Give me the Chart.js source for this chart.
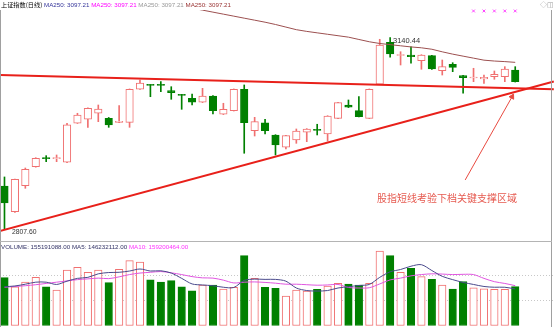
<!DOCTYPE html>
<html>
<head>
<meta charset="utf-8">
<script src="https://cdn.jsdelivr.net/npm/chart.js@4.4.0/dist/chart.umd.min.js"></script>
<style>
  body { margin: 0; width: 554px; height: 327px; background: #fff; overflow: hidden; position: relative;
         font-family: "Liberation Sans", Arial, "Noto Sans CJK SC", sans-serif; }
  canvas { position: absolute; left: 0; }
  #kline { top: 0; }
  #vol { top: 242px; }
  .txt { position: absolute; white-space: nowrap; line-height: 1; }
  #frame { position: absolute; left: 0; top: 10px; width: 550px; height: 317px;
           border-left: 1px solid #a0a0a0; border-right: 1px solid #a0a0a0; }
  #sep { position: absolute; left: 0; top: 241px; width: 552px; border-top: 1px solid #b4b4b4; }
</style>
</head>
<body>
<canvas id="kline" width="554" height="241"></canvas>
<canvas id="vol" width="554" height="84"></canvas>
<div id="frame"></div>
<div id="sep"></div>

<div class="txt" style="left:1px;top:2px;font-size:6.2px;">
  <span style="color:#000;font-family:'Noto Sans CJK SC';">上证指数(日线)</span>
  <span style="color:#333399;">MA250: 3097.21</span>
  <span style="color:#ff00ff;">MA250: 3097.21</span>
  <span style="color:#999;">MA250: 3097.21</span>
  <span style="color:#993333;">MA250: 3097.21</span>
</div>
<div class="txt" style="left:540px;top:1px;font-size:7px;color:#999;">◇◫</div>
<div class="txt" style="left:393px;top:37px;font-size:7.5px;color:#333;">3140.44</div>
<div class="txt" style="left:12px;top:228.5px;font-size:6.8px;color:#333;">2807.60</div>
<div class="txt" style="left:377px;top:192.5px;font-size:10px;color:#e65a50;font-family:'Noto Sans CJK SC';">股指短线考验下档关键支撑区域</div>
<div class="txt" style="left:1px;top:243.5px;font-size:6.2px;">
  <span style="color:#333366;">VOLUME: 155191088.00</span>
  <span style="color:#333366;">MA5: 146232112.00</span>
  <span style="color:#ff33ff;">MA10: 159200464.00</span>
</div>

<script>
// 日K线数据
const opens  = [2882.3, 2837.7, 2882.9, 2915.9, 2931.0, 2930.0, 2923.5, 2991.3, 2998.3, 3008.7,
                2999.9, 2993.0, 2993.0, 3050.4, 3058.2, 3058.6, 3048.0, 3041.2, 3034.8, 3027.8,
                3038.8, 3007.0, 3013.2, 3050.4, 2978.4, 2992.3, 2971.0, 2949.6, 2962.3, 2975.7,
                2980.4, 2972.7, 2999.9, 3023.1, 3013.2, 2999.9, 3059.1, 3132.1, 3109.1, 3110.0,
                3100.1, 3108.8, 3082.7, 3093.8, 3074.0, 3070.0, 3068.3, 3072.3, 3072.3, 3083.9];
const highs  = [2898.0, 2894.5, 2913.6, 2931.5, 2935.0, 2936.2, 2991.3, 3008.7, 3018.0, 3023.1,
                3001.4, 3021.9, 3051.0, 3066.6, 3058.6, 3063.6, 3054.9, 3041.6, 3042.2, 3052.1,
                3039.3, 3026.1, 3051.0, 3057.9, 3001.7, 2998.3, 2971.5, 2970.3, 2981.4, 2982.0,
                2989.6, 3004.5, 3027.6, 3031.8, 3037.5, 3051.0, 3137.3, 3140.44, 3115.7, 3124.4,
                3110.5, 3109.5, 3101.3, 3096.6, 3074.5, 3086.9, 3075.2, 3082.2, 3089.7, 3089.7];
const lows   = [2807.6, 2836.5, 2878.3, 2915.0, 2924.6, 2924.6, 2923.0, 2991.0, 2984.3, 2994.1,
                2984.3, 2992.5, 2984.3, 3050.0, 3037.5, 3046.2, 3033.0, 3015.6, 3023.1, 3027.3,
                3007.5, 3006.5, 3012.6, 2939.2, 2969.2, 2972.7, 2936.2, 2946.6, 2956.5, 2959.3,
                2971.0, 2960.5, 2999.5, 3018.6, 3002.3, 2999.5, 3058.6, 3106.0, 3092.6, 3095.6,
                3085.2, 3085.0, 3075.2, 3081.0, 3043.5, 3063.6, 3060.8, 3067.8, 3063.6, 3063.0];
const closes = [2852.8, 2894.0, 2911.4, 2930.5, 2930.0, 2931.0, 2988.4, 3005.7, 3017.4, 3016.2,
                2988.4, 2994.8, 3050.4, 3061.3, 3057.2, 3057.2, 3044.5, 3039.8, 3027.8, 3038.8,
                3013.2, 3015.6, 3050.4, 2992.3, 2994.1, 2978.4, 2953.6, 2969.8, 2977.9, 2981.4,
                2979.0, 3004.0, 3027.1, 3019.1, 3002.8, 3050.4, 3127.4, 3111.7, 3110.9, 3107.1,
                3110.0, 3085.7, 3089.7, 3088.6, 3070.6, 3071.1, 3071.3, 3076.5, 3085.7, 3063.6];
const ma250  = [null, null, null, null, null, null, null, null, null, null,
                null, null, null, null, null, null, 3198.5, 3195.0, 3191.5, 3188.0,
                3184.5, 3181.0, 3177.5, 3174.0, 3170.5, 3167.0, 3163.0, 3158.5, 3154.0, 3151.0,
                3148.5, 3146.0, 3143.5, 3141.0, 3137.0, 3133.0, 3130.0, 3128.0, 3126.0, 3124.0,
                3122.5, 3120.0, 3115.5, 3111.5, 3108.0, 3104.5, 3101.0, 3099.5, 3098.5, 3097.2];

// 成交量（百万）
const volumes = [191, 155, 173, 192, 155, 142, 221, 232, 212, 221,
                 171, 224, 258, 252, 182, 173, 179, 155, 139, 162,
                 162, 146, 153, 278, 188, 153, 149, 118, 142, 138,
                 145, 158, 168, 165, 162, 168, 296, 278, 212, 228,
                 195, 184, 162, 146, 175, 151, 147, 145, 145, 155.2];
const volMA5  = [155, 158, 165, 173, 173, 164, 177, 188, 192, 206,
                 211, 212, 217, 225, 217, 218, 209, 188, 166, 162,
                 159, 153, 152, 180, 185, 184, 184, 177, 150, 140,
                 138, 140, 150, 155, 160, 164, 192, 214, 223, 236,
                 242, 219, 196, 183, 172, 164, 156, 153, 153, 146.2];
const volMA10 = [153, 156, 159, 163, 168, 173, 178, 183, 186, 189,
                 187, 194, 203, 209, 212, 215, 210, 203, 195, 190,
                 189, 181, 170, 173, 174, 172, 169, 165, 165, 163,
                 161, 162, 164, 152, 150, 151, 166, 182, 189, 198,
                 203, 206, 205, 203, 204, 203, 188, 175, 168, 159.2];

// 手绘趋势线与箭头（x 为K线序号，y 为点位）
const pressX = [-0.45, 52.7],  pressY = [3075.2, 3050.4];
const supportX = [-0.45, 52.7], supportY = [2804.0, 3064.0];
const arrowX = [44.2, 48.7],   arrowY = [2892.8, 3037.5];
const markIdx = [45, 46, 47, 48, 49], markLevel = 3186.5;

const RED = '#f07070', GREEN = '#008000';
const isUp = closes.map((c, i) => c >= opens[i]);
const xAxis = { type: 'linear', min: -0.43, max: 52.72, offset: false, display: false };
const pts = (xs, ys) => xs.map((x, i) => ({ x: x, y: ys[i] }));

new Chart(document.getElementById('kline'), {
    type: 'bar',
    data: {
        datasets: [
            { type: 'line', data: pts(pressX, pressY), borderColor: '#e8201a', borderWidth: 2, pointRadius: 0, order: 0 },
            { type: 'line', data: pts(supportX, supportY), borderColor: '#e8201a', borderWidth: 2, pointRadius: 0, order: 0 },
            { type: 'line', data: pts(arrowX, arrowY), borderColor: '#e84a40', backgroundColor: '#e84a40', borderWidth: 1,
              pointRadius: [0, 3], pointStyle: 'triangle', pointRotation: [0, 29], order: 0 },
            { type: 'line', data: markIdx.map(i => ({ x: i, y: markLevel })), showLine: false, clip: false,
              pointStyle: 'crossRot', pointRadius: 2, borderColor: '#ff40ff', borderWidth: 1, order: 0 },
            { type: 'line', data: ma250.map((v, i) => ({ x: i, y: v })), borderColor: '#9c5050', borderWidth: 1,
              pointRadius: 0, order: 1 },
            { data: opens.map((o, i) => ({ x: i, y: [o, closes[i]] })), grouped: false, barThickness: 7.5, minBarLength: 1,
              backgroundColor: isUp.map(u => u ? '#ffffff' : GREEN), borderColor: isUp.map(u => u ? RED : GREEN),
              borderWidth: 1, borderSkipped: false, order: 2 },
            { data: lows.map((l, i) => ({ x: i, y: [l, highs[i]] })), grouped: false, barThickness: 1,
              backgroundColor: isUp.map(u => u ? RED : GREEN), borderWidth: 0, order: 3 }
        ]
    },
    options: {
        responsive: false, animation: false, devicePixelRatio: 1,
        layout: { autoPadding: false, padding: { top: 10, left: 0, right: 0, bottom: 0 } },
        plugins: { legend: { display: false }, tooltip: { enabled: false } },
        scales: {
            x: xAxis,
            y: {
                min: 2786.7, max: 3188.2,
                ticks: { display: false, stepSize: 50 },
                grid: { drawTicks: false, color: ctx => (ctx.tick.value % 50 === 0 && ctx.tick.value >= 2850 && ctx.tick.value <= 3150) ? '#c8c8c8' : 'rgba(0,0,0,0)' },
                border: { display: false, dash: [1, 2] },
                afterFit: s => { s.width = 0; }
            }
        }
    }
});

new Chart(document.getElementById('vol'), {
    type: 'bar',
    data: {
        datasets: [
            { type: 'line', data: volMA5.map((v, i) => ({ x: i, y: v })), borderColor: '#4a4a8c', borderWidth: 1,
              pointRadius: 0, tension: 0.3, order: 0 },
            { type: 'line', data: volMA10.map((v, i) => ({ x: i, y: v })), borderColor: '#e055e0', borderWidth: 1,
              pointRadius: 0, tension: 0.3, order: 0 },
            { data: volumes.map((v, i) => ({ x: i, y: v })), grouped: false, barThickness: 7.5,
              backgroundColor: isUp.map(u => u ? '#ffffff' : GREEN), borderColor: isUp.map(u => u ? RED : GREEN),
              borderWidth: 1, borderSkipped: false, order: 1 }
        ]
    },
    options: {
        responsive: false, animation: false, devicePixelRatio: 1,
        layout: { autoPadding: false, padding: { top: 8, left: 0, right: 0, bottom: 0 } },
        plugins: { legend: { display: false }, tooltip: { enabled: false } },
        scales: {
            x: xAxis,
            y: {
                min: 0, max: 300,
                ticks: { display: false, stepSize: 100 },
                grid: { drawTicks: false, color: ctx => (ctx.tick.value === 100 || ctx.tick.value === 200) ? '#c8c8c8' : 'rgba(0,0,0,0)' },
                border: { display: false, dash: [1, 2] },
                afterFit: s => { s.width = 0; }
            }
        }
    }
});
</script>
</body>
</html>
